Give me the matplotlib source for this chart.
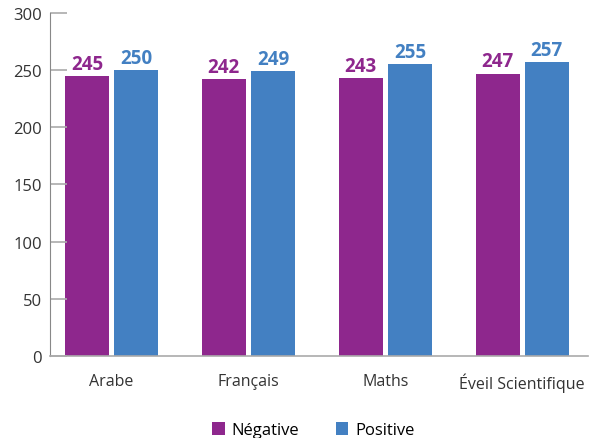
import numpy as np
import matplotlib.pyplot as plt

plt.rcParams['font.family'] = ['Open Sans', 'DejaVu Sans']

categories = ['Arabe', 'Français', 'Maths', 'Éveil Scientifique']
negative = [245, 242, 243, 247]
positive = [250, 249, 255, 257]

purple = '#8E278D'
blue = '#4380C2'

fig = plt.figure(figsize=(5.97, 4.39), dpi=100)
ax = fig.add_axes([0.0838, 0.187, 0.901, 0.781])

x = np.arange(len(categories))
w = 0.322
off = 0.18
ax.bar(x - off, negative, w, color=purple, label='Négative')
ax.bar(x + off, positive, w, color=blue, label='Positive')

for xi, v in zip(x, negative):
    ax.text(xi - off, v + 2, str(v), ha='center', va='bottom', color=purple,
            fontsize=13.5, fontweight='bold')
for xi, v in zip(x, positive):
    ax.text(xi + off, v + 2, str(v), ha='center', va='bottom', color=blue,
            fontsize=13.5, fontweight='bold')

ax.set_xlim(-0.45, 3.48)
ax.set_ylim(0, 300)
ax.set_yticks(range(0, 301, 50))
ax.set_xticks(x)
ax.set_xticklabels(categories, fontsize=11.5, color='#333333')
ax.tick_params(axis='y', direction='in', length=12, width=1.2, color='#aaaaaa',
               labelsize=12, labelcolor='#333333', pad=6)
ax.tick_params(axis='x', length=0, pad=12)

for s in ['top', 'right']:
    ax.spines[s].set_visible(False)
ax.spines['left'].set_color('#888888')
ax.spines['bottom'].set_color('#aaaaaa')
ax.spines['bottom'].set_linewidth(1.2)

fig.legend(loc='lower center', bbox_to_anchor=(0.525, -0.035), ncol=2, frameon=False,
           fontsize=12, handlelength=0.75, handleheight=0.75, columnspacing=2.2,
           handletextpad=0.4)

fig.savefig('out.png', dpi=100)
